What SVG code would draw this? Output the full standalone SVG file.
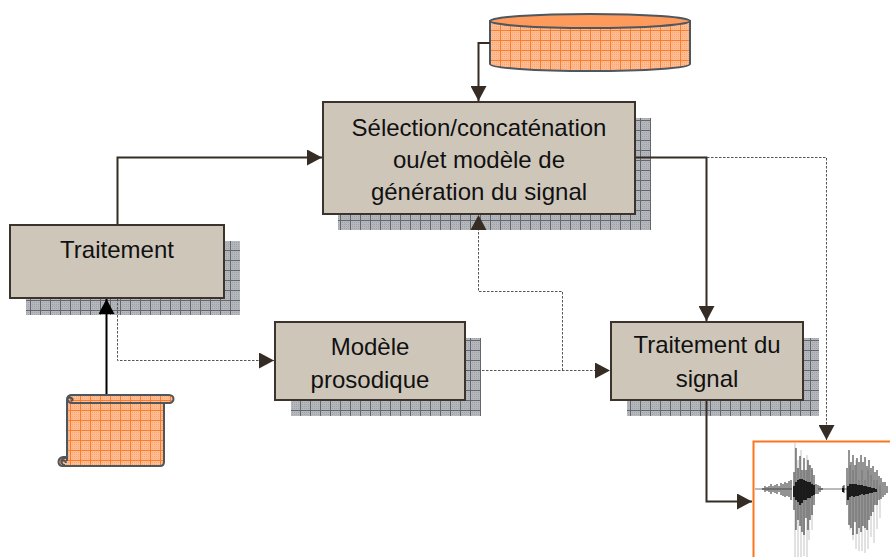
<svg xmlns="http://www.w3.org/2000/svg" width="890" height="557" viewBox="0 0 890 557">
<defs>
<pattern id="fineGray" width="2" height="2" patternUnits="userSpaceOnUse"><rect width="2" height="2" fill="#b4b7bb"/><rect width="1" height="1" fill="#a0a3a8"/></pattern>
<pattern id="fineOrange" width="2" height="2" patternUnits="userSpaceOnUse"><rect width="2" height="2" fill="#fdbc94"/><rect width="1" height="1" fill="#fca670"/></pattern>
<pattern id="gridGray" width="10" height="10" patternUnits="userSpaceOnUse"><rect width="10" height="10" fill="url(#fineGray)"/><path d="M0 0.500H10M0.500 0V10" stroke="#63666c" stroke-width="1" fill="none"/></pattern>
<pattern id="gridOrange" width="10" height="10" patternUnits="userSpaceOnUse"><rect width="10" height="10" fill="url(#fineOrange)"/><path d="M0 0.500H10M0.500 0V10" stroke="#f97c28" stroke-width="1" fill="none"/></pattern>
<marker id="arrow" markerWidth="16" markerHeight="16" viewBox="0 0 16 16" refX="15" refY="8" orient="auto" markerUnits="userSpaceOnUse"><path d="M0 0L15 8L0 16Z" fill="#352c25"/></marker>
<marker id="arrowK" markerWidth="16" markerHeight="16" viewBox="0 0 16 16" refX="15" refY="8" orient="auto" markerUnits="userSpaceOnUse"><path d="M0 0L15 8L0 16Z" fill="#000"/></marker>
</defs>
<style>
.sh{fill:url(#gridGray)}
.box{fill:#cfc6ba;stroke:#3c332c;stroke-width:2}
.t{font-family:"Liberation Sans",Arial,sans-serif;font-size:24px;fill:#111;text-anchor:middle}
.c{fill:none;stroke:#352c25;stroke-width:2}
.d{fill:none;stroke:#555;stroke-width:1;stroke-dasharray:2.5 1.5}
.o{fill:url(#gridOrange);stroke:#4e565e;stroke-width:2}
.k{fill:none;stroke:#4e565e;stroke-width:2}
.w1{fill:none;stroke:#b5b5b5;stroke-width:0.8}
.w2{fill:none;stroke:#111;stroke-width:0.9}
.w3{fill:none;stroke:#000;stroke-width:1.6}
</style>
<rect width="890" height="557" fill="#fff"/>

<g id="node-selection">
<rect class="sh" x="338" y="118" width="313" height="112"/>
<rect class="box" x="323" y="102" width="312" height="112"/>
<text class="t" x="479" y="136">Sélection/concaténation</text>
<text class="t" x="479" y="168">ou/et modèle de</text>
<text class="t" x="479" y="200">génération du signal</text>
</g>
<g id="node-traitement">
<rect class="sh" x="26" y="241" width="214" height="74"/>
<rect class="box" x="10" y="225" width="214" height="73"/>
<text class="t" x="117" y="258">Traitement</text>
</g>
<g id="node-modele">
<rect class="sh" x="291" y="338" width="190" height="78"/>
<rect class="box" x="275" y="322" width="190" height="78"/>
<text class="t" x="370" y="355">Modèle</text>
<text class="t" x="370" y="388">prosodique</text>
</g>
<g id="node-signal">
<rect class="sh" x="627" y="338" width="192" height="78"/>
<rect class="box" x="611" y="322" width="192" height="78"/>
<text class="t" x="707" y="353">Traitement du</text>
<text class="t" x="707" y="387">signal</text>
</g>

<g id="node-database">
<path class="o" d="M490 21V64C490 68 535 71 590 71C645 71 690 68 690 64V21Z"/>
<ellipse cx="590" cy="21" rx="100" ry="7" fill="#fd9a5c" stroke="#4e565e" stroke-width="2"/>
</g>

<g id="node-document">
<path class="o" d="M67 461V400C67 397 69 395 72 395H169C175 395 175 403 169 403H164V462C164 465 162 466 160 466H63C57 466 57 458 63 457H67Z"/>
<path class="k" d="M72 395C66 395 66 403 72 403H164"/>
<path class="k" d="M67 398C73 397 74 400 71 401" stroke-width="1.5"/>
<path class="k" d="M67 458C60 457 60 465 65 465M62 461C64 460 66 461 66 463" stroke-width="1.5"/>
</g>

<g id="node-waveform">
<path d="M753.500 557V441.500H890" fill="#fff" stroke="#f9761e" stroke-width="2"/>
<path d="M755 489H792M818 489H848" fill="none" stroke="#777" stroke-width="1"/>
<path class="w2" stroke="#555" d="M763 488V490M765 486V492M767 487V491M769 486V492M771 484V494M773 486V492M775 485V493M777 484V494M779 486V492M781 483V495M783 484V496M785 482V497M787 483V496M789 481V497M791 480V500M816 484V494M818 485V494M820 486V492M822 488V490M843 486V492M844 485V493"/>
<path class="w1" d="M795 443V557M798 460V557M801 450V557M804 470V556M807 455V557M809 465V540M812 470V530M850 465V530M853 470V540M856 460V549M859 480V551M862 470V551M865 480V553M868 470V549M871 475V537M874 480V543M877 480V529M880 485V518"/>
<path class="w2" d="M794 472V510M796 448V530M798 468V520M800 456V526M802 470V532M804 458V535M806 470V518M808 460V530M810 465V520M812 468V515M814 475V505M847 468V505M849 450V525M851 462V528M853 455V535M855 465V522M857 458V534M859 462V528M861 455V532M863 462V526M865 457V528M867 466V530M869 460V520M871 468V516M873 466V512M875 472V505M877 470V505M879 476V500M881 478V499M883 482V497M885 482V495M887 486V493"/>
<path class="w3" d="M794 486V497M796 482V500M798 480V502M800 479V505M802 479V503M804 480V500M806 481V500M808 482V498M810 482V498M812 484V496M814 485V495M848 486V500M850 484V497M852 484V496M854 484V497M856 484V496M858 485V496M860 485V495M862 485V494M864 486V495M866 486V494M868 487V494M870 487V493M872 488V493M874 488V492M876 489V492M843 488V492"/>
</g>

<g id="connectors">
<path class="c" d="M490 43H478.500V101" marker-end="url(#arrow)"/>
<path class="c" d="M117.500 224V157.500H322" marker-end="url(#arrow)"/>
<path class="c" d="M636 157.500H706.500V321" marker-end="url(#arrow)"/>
<path class="c" d="M706.500 401V501.500H752" marker-end="url(#arrow)"/>
<path d="M106.500 394V299" fill="none" stroke="#000" stroke-width="2" marker-end="url(#arrowK)"/>
<path class="d" d="M117.500 299V360.500H274" marker-end="url(#arrow)"/>
<path class="d" d="M466 370.500H610" marker-end="url(#arrow)"/>
<path class="d" d="M562.500 370.500V291.500H478.500V215" marker-end="url(#arrow)"/>
<path class="d" d="M707 157.500H826.500V440" marker-end="url(#arrow)"/>
</g>
</svg>
